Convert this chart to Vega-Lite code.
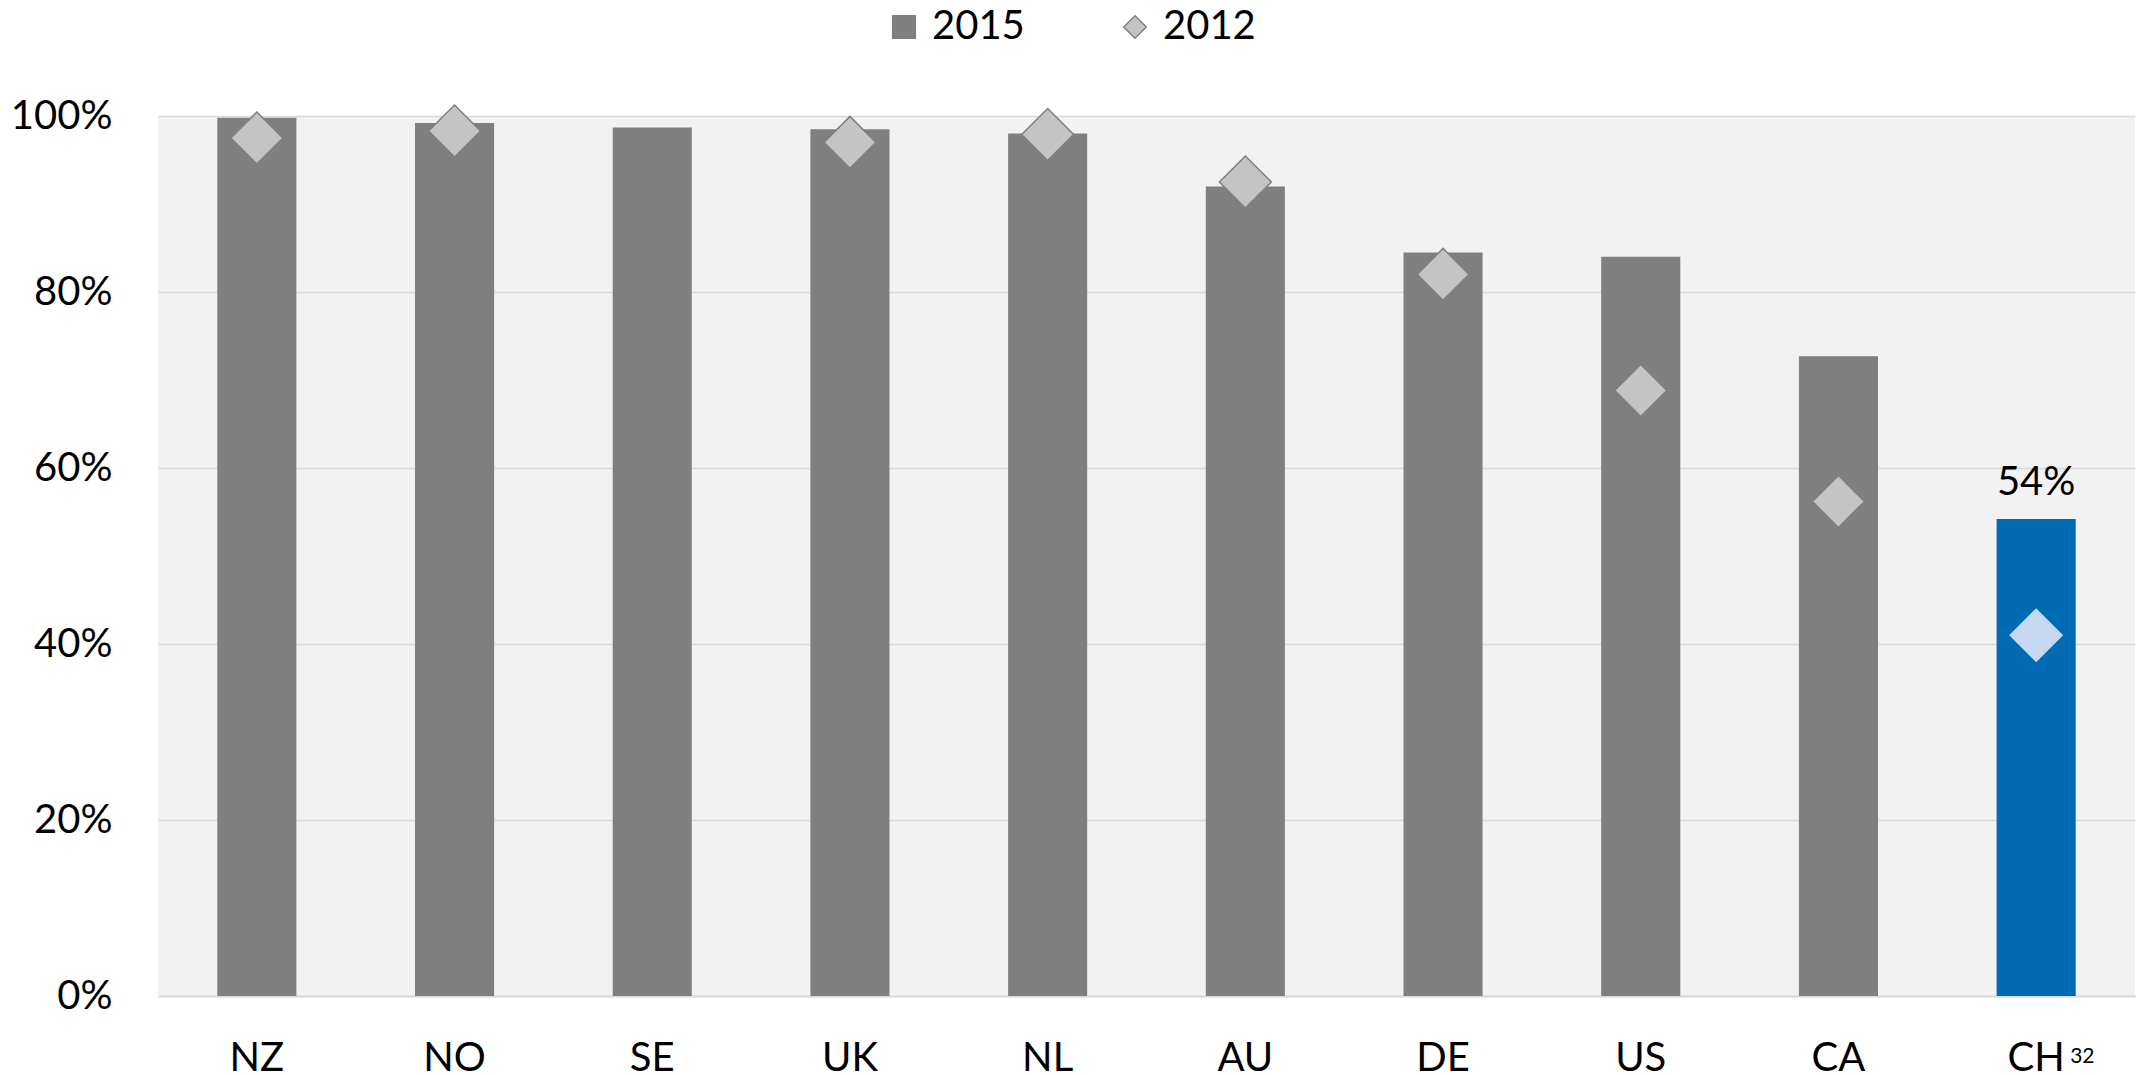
{
  "$schema": "https://vega.github.io/schema/vega-lite/v6.json",
  "width": 1977,
  "height": 880,
  "autosize": {"type": "none"},
  "padding": {"left": 158, "top": 116, "right": 8, "bottom": 79},
  "background": "#ffffff",
  "datasets": {
    "main": [
      {"country": "NZ", "series": "2015", "value": 0.998},
      {"country": "NO", "series": "2015", "value": 0.992},
      {"country": "SE", "series": "2015", "value": 0.987},
      {"country": "UK", "series": "2015", "value": 0.985},
      {"country": "NL", "series": "2015", "value": 0.980},
      {"country": "AU", "series": "2015", "value": 0.920},
      {"country": "DE", "series": "2015", "value": 0.845},
      {"country": "US", "series": "2015", "value": 0.840},
      {"country": "CA", "series": "2015", "value": 0.727},
      {"country": "CH", "series": "2015", "value": 0.542},
      {"country": "NZ", "series": "2012", "value": 0.975},
      {"country": "NO", "series": "2012", "value": 0.983},
      {"country": "UK", "series": "2012", "value": 0.970},
      {"country": "NL", "series": "2012", "value": 0.979},
      {"country": "AU", "series": "2012", "value": 0.925},
      {"country": "DE", "series": "2012", "value": 0.820},
      {"country": "US", "series": "2012", "value": 0.688},
      {"country": "CA", "series": "2012", "value": 0.562},
      {"country": "CH", "series": "2012", "value": 0.410}
    ],
    "notes": [
      {"country": "CH", "note": "32"}
    ]
  },
  "data": {"name": "main"},
  "encoding": {
    "x": {
      "field": "country",
      "type": "nominal",
      "sort": ["NZ", "NO", "SE", "UK", "NL", "AU", "DE", "US", "CA", "CH"],
      "scale": {"paddingInner": 0.6, "paddingOuter": 0.3},
      "axis": {
        "title": null,
        "labelAngle": 0,
        "ticks": false,
        "tickSize": 0,
        "grid": false,
        "domain": true,
        "domainColor": "#d9d9d9",
        "domainWidth": 2,
        "labelPadding": 42,
        "labelFontSize": 40,
        "labelFont": "Lato",
        "labelColor": "#000000"
      }
    }
  },
  "layer": [
    {
      "transform": [{"filter": "datum.series === '2015'"}],
      "mark": {"type": "bar"},
      "encoding": {
        "y": {
          "field": "value",
          "type": "quantitative",
          "scale": {"domain": [0, 1], "nice": false},
          "axis": {
            "title": null,
            "values": [0, 0.2, 0.4, 0.6, 0.8, 1],
            "format": ".0%",
            "ticks": false,
            "tickSize": 0,
            "domain": false,
            "grid": true,
            "gridColor": "#d9d9d9",
            "gridWidth": 1.5,
            "labelPadding": 46,
            "labelFontSize": 40,
            "labelFont": "Lato",
            "labelColor": "#000000"
          }
        },
        "color": {
          "condition": {"test": "datum.country === 'CH'", "value": "#006ab4"},
          "field": "series",
          "type": "nominal",
          "scale": {"domain": ["2015", "2012"], "range": ["#7f7f7f", "#c4c4c4"]},
          "legend": {
            "title": null,
            "orient": "none",
            "direction": "horizontal",
            "legendX": 726,
            "legendY": -109,
            "labelFontSize": 40,
            "labelFont": "Lato",
            "labelColor": "#000000",
            "symbolSize": 510,
            "labelOffset": 8,
            "columnPadding": 90,
            "symbolStrokeColor": "#7f7f7f",
            "symbolStrokeWidth": 1.5
          }
        }
      }
    },
    {
      "transform": [{"filter": "datum.series === '2012'"}],
      "mark": {"type": "point", "filled": true, "size": 2700, "strokeWidth": 1.5, "opacity": 1},
      "encoding": {
        "y": {"field": "value", "type": "quantitative"},
        "color": {
          "condition": {"test": "datum.country === 'CH'", "value": "#c6d9f1"},
          "field": "series",
          "type": "nominal"
        },
        "shape": {
          "field": "series",
          "type": "nominal",
          "scale": {"domain": ["2015", "2012"], "range": ["square", "diamond"]}
        },
        "stroke": {
          "condition": {"test": "datum.country === 'CH'", "value": "#c6d9f1"},
          "value": "#7f7f7f"
        }
      }
    },
    {
      "transform": [{"filter": "datum.series === '2015' && datum.country === 'CH'"}],
      "mark": {"type": "text", "baseline": "alphabetic", "dy": -24, "fontSize": 40, "font": "Lato", "color": "#000000"},
      "encoding": {
        "y": {"field": "value", "type": "quantitative"},
        "text": {"field": "value", "type": "quantitative", "format": ".0%"}
      }
    },
    {
      "data": {"name": "notes"},
      "mark": {"type": "text", "align": "left", "baseline": "alphabetic", "dx": 34, "dy": 67, "fontSize": 21, "font": "Lato", "color": "#000000"},
      "encoding": {
        "y": {"datum": 0, "type": "quantitative"},
        "text": {"field": "note", "type": "nominal"}
      }
    }
  ],
  "config": {
    "view": {"fill": "#f2f2f2", "stroke": null},
    "font": "Lato"
  }
}
